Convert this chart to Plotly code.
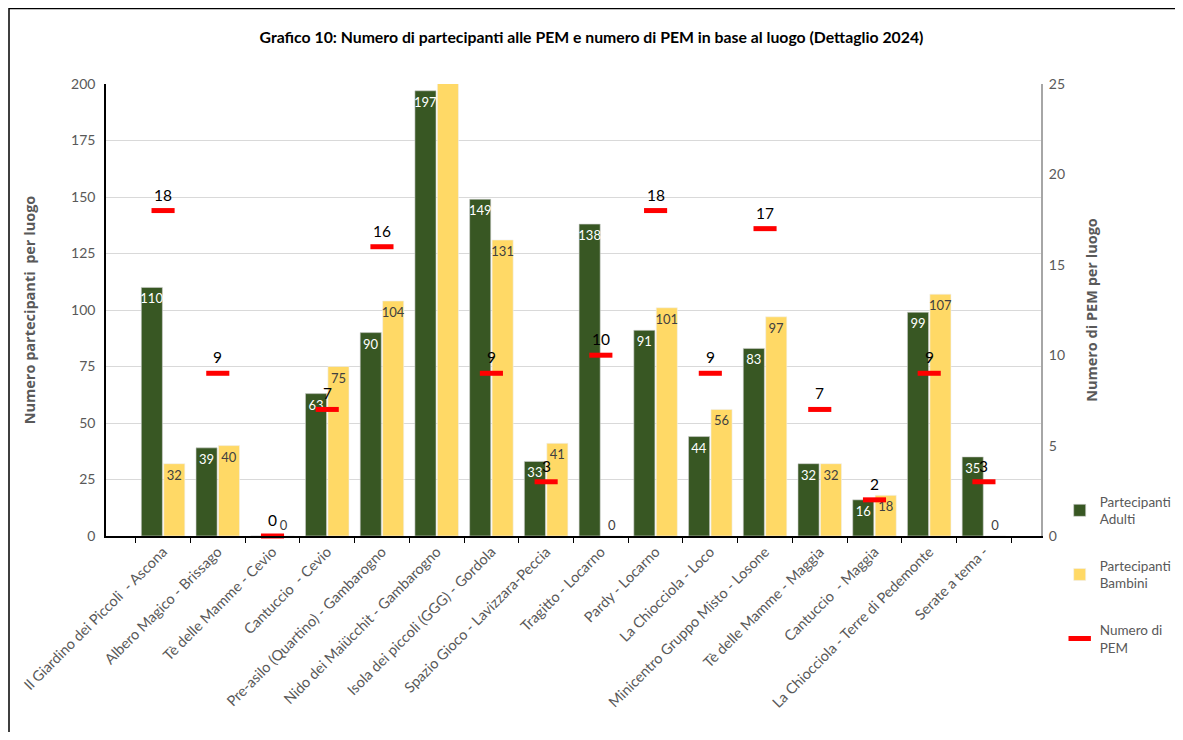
import plotly.graph_objects as go

categories = [
    "Il Giardino dei Piccoli  - Ascona",
    "Albero Magico - Brissago",
    "Tè delle Mamme - Cevio",
    "Cantuccio  - Cevio",
    "Pre-asilo (Quartino) - Gambarogno",
    "Nido dei Maiücchit - Gambarogno",
    "Isola dei piccoli (GGG) - Gordola",
    "Spazio Gioco - Lavizzara-Peccia",
    "Tragitto - Locarno",
    "Pardy - Locarno",
    "La Chiocciola - Loco",
    "Minicentro Gruppo Misto - Losone",
    "Tè delle Mamme - Maggia",
    "Cantuccio  - Maggia",
    "La Chiocciola - Terre di Pedemonte",
    "Serate a tema -",
]
adulti = [110, 39, 0, 63, 90, 197, 149, 33, 138, 91, 44, 83, 32, 16, 99, 35]
bambini = [32, 40, 0, 75, 104, 210, 131, 41, 0, 101, 56, 97, 32, 18, 107, 0]
pem = [18, 9, 0, 7, 16, None, 9, 3, 10, 18, 9, 17, 7, 2, 9, 3]

FONT = "Lato, Open Sans, sans-serif"
GRAY = "#595959"

W, H = 1167, 724
ML, MR, MT, MB = 98, 134, 76, 196

adult_text = [str(v) if v > 0 else "" for v in adulti]
bamb_text = [str(v) if v <= 200 else "" for v in bambini]
bamb_pos = ["outside" if v == 0 else "inside" for v in bambini]

fig = go.Figure()
fig.add_trace(go.Bar(
    x=categories, y=adulti, name="Partecipanti<br>Adulti",
    marker=dict(color="#385723", line=dict(color="#d0d0d0", width=0.6)),
    text=adult_text, textposition="inside", insidetextanchor="end", textangle=0,
    textfont=dict(size=13, color="white", family=FONT),
    legendgroup="a",
))
fig.add_trace(go.Bar(
    x=categories, y=bambini, name="Partecipanti<br>Bambini",
    marker=dict(color="#FFD966", line=dict(color="#f0f0f0", width=0.6)),
    text=bamb_text, textposition=bamb_pos, insidetextanchor="end", textangle=0,
    textfont=dict(size=13, color="#404040", family=FONT),
    outsidetextfont=dict(size=13, color="#404040", family=FONT),
    legendgroup="b", cliponaxis=False,
))
fig.add_trace(go.Scatter(
    x=categories, y=pem, name="Numero di<br>PEM", yaxis="y2",
    mode="markers",
    marker=dict(symbol="line-ew", size=16.5, color="#FF0000",
                line=dict(color="#FF0000", width=5)),
    legendgroup="c", cliponaxis=False,
))

for cat, v in zip(categories, pem):
    if v is None:
        continue
    fig.add_annotation(x=cat, y=v, xref="x", yref="y2", text=str(v),
                       showarrow=False, yanchor="bottom", yshift=5,
                       font=dict(size=15.5, color="black", family=FONT))

pw = W - ML - MR
ph = H - MT - MB
fig.add_shape(type="rect", xref="paper", yref="paper",
              x0=-(ML - 1) / pw, x1=1 + (MR + 20) / pw,
              y0=-(MB + 20) / ph, y1=1 + (MT - 0.5) / ph,
              line=dict(color="black", width=1.5), layer="below")

fig.update_layout(
    width=W, height=H,
    margin=dict(l=ML, r=MR, t=MT, b=MB, autoexpand=False),
    paper_bgcolor="white", plot_bgcolor="white",
    font=dict(family=FONT, color=GRAY, size=13),
    title=dict(
        text="Grafico 10: Numero di partecipanti alle PEM e numero di PEM in base al luogo (Dettaglio 2024)",
        x=0.5, xanchor="center", y=1 - 29 / H, yanchor="middle",
        font=dict(size=15.8, color="black", family=FONT, weight="bold"),
    ),
    barmode="group", bargap=0.18, bargroupgap=0.06,
    uniformtext=dict(minsize=13, mode="show"),
    showlegend=True,
    legend=dict(x=1.02, xanchor="left", y=0.11, yanchor="top",
                font=dict(size=13.5, color=GRAY, family=FONT),
                tracegroupgap=26, itemwidth=30, bgcolor="rgba(0,0,0,0)"),
    xaxis=dict(
        type="category", tickangle=-45, automargin=False,
        tickson="boundaries", ticks="outside", ticklen=5, tickcolor="black",
        showline=True, linecolor="black", linewidth=1.5,
        tickfont=dict(size=14.5, color=GRAY, family=FONT),
        showgrid=False,
    ),
    yaxis=dict(
        range=[0, 200], dtick=25, showgrid=True, gridcolor="#d9d9d9", gridwidth=1,
        showline=True, linecolor="black", linewidth=1.5, zeroline=False,
        tickfont=dict(size=14, color=GRAY, family=FONT), automargin=False,
        ticklabelstandoff=6,
        title=dict(text="Numero partecipanti  per luogo", standoff=32,
                   font=dict(size=14.5, color=GRAY, family="Open Sans, sans-serif", weight="bold")),
    ),
    yaxis2=dict(
        range=[0, 25], dtick=5, overlaying="y", side="right", showgrid=False,
        showline=True, linecolor="#a6a6a6", linewidth=2, zeroline=False,
        tickfont=dict(size=14, color=GRAY, family=FONT), automargin=False,
        ticklabelstandoff=3,
        title=dict(text="Numero di PEM per luogo", standoff=23,
                   font=dict(size=14.5, color=GRAY, family="Open Sans, sans-serif", weight="bold")),
    ),
)

fig.write_html("out.html")
